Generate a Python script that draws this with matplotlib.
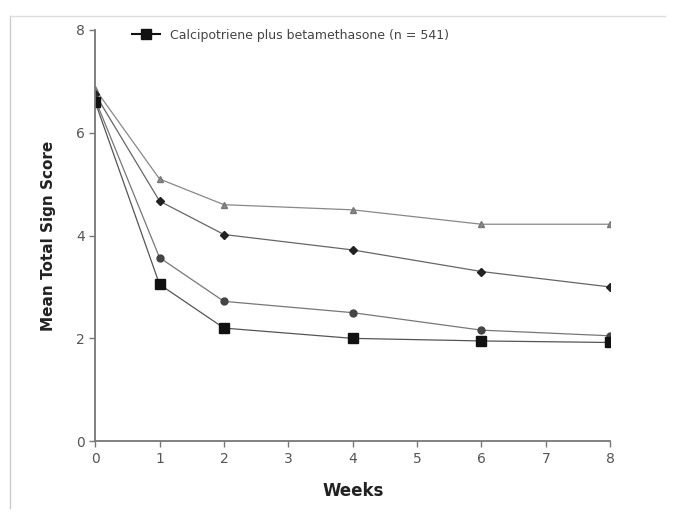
import matplotlib.pyplot as plt
from matplotlib.lines import Line2D

# Data
weeks = [0, 1, 2, 4, 6, 8]
series_a = [6.85, 5.1, 4.6, 4.5, 4.22, 4.22]
series_b = [6.75, 4.67, 4.02, 3.72, 3.3, 3.0]
series_c = [6.65, 3.57, 2.72, 2.5, 2.16, 2.05]
combo = [6.6, 3.05, 2.2, 2.0, 1.95, 1.92]
legend_label = "Calcipotriene plus betamethasone (n = 541)"

fig = plt.figure(figsize=(6.75, 5.24), dpi=100)
ax = fig.add_axes([0.141, 0.158, 0.763, 0.785])

ax.plot(weeks, series_a, color='#888888', lw=0.9, marker='^', ms=5, mfc='#888888', mec='#777777')
ax.plot(weeks, series_b, color='#666666', lw=0.9, marker='D', ms=4.5, mfc='#222222', mec='#222222')
ax.plot(weeks, series_c, color='#777777', lw=0.9, marker='o', ms=5, mfc='#444444', mec='#444444')
ax.plot(weeks, combo, color='#555555', lw=0.9, marker='s', ms=7, mfc='#111111', mec='#111111')

ax.set_xlim(0, 8)
ax.set_ylim(0, 8)
ax.set_xticks(range(9))
ax.set_yticks([0, 2, 4, 6, 8])
for s in ['top', 'right']:
    ax.spines[s].set_visible(False)
for s in ['left', 'bottom']:
    ax.spines[s].set_color('#777777')
    ax.spines[s].set_linewidth(1.3)
ax.tick_params(colors='#777777', labelcolor='#555555', labelsize=10, length=4, width=1)

ax.set_xlabel("Weeks", fontsize=12, fontweight='bold', color='#222222', labelpad=12)
ax.set_ylabel("Mean Total Sign Score", fontsize=11, fontweight='bold', color='#222222', labelpad=14)

handle = Line2D([], [], color='#111111', lw=1.5, marker='s', ms=7, mfc='#111111')
ax.legend([handle], [legend_label], loc='upper left', bbox_to_anchor=(0.05, 1.03),
          frameon=False, fontsize=9, labelcolor='#444444', handlelength=2.2)

# light frame around the figure
fig.add_artist(Line2D([0.015, 0.015], [0.03, 0.97], color='#cccccc', lw=1))
fig.add_artist(Line2D([0.015, 0.985], [0.97, 0.97], color='#dddddd', lw=1))

fig.savefig("out.png", dpi=100)
